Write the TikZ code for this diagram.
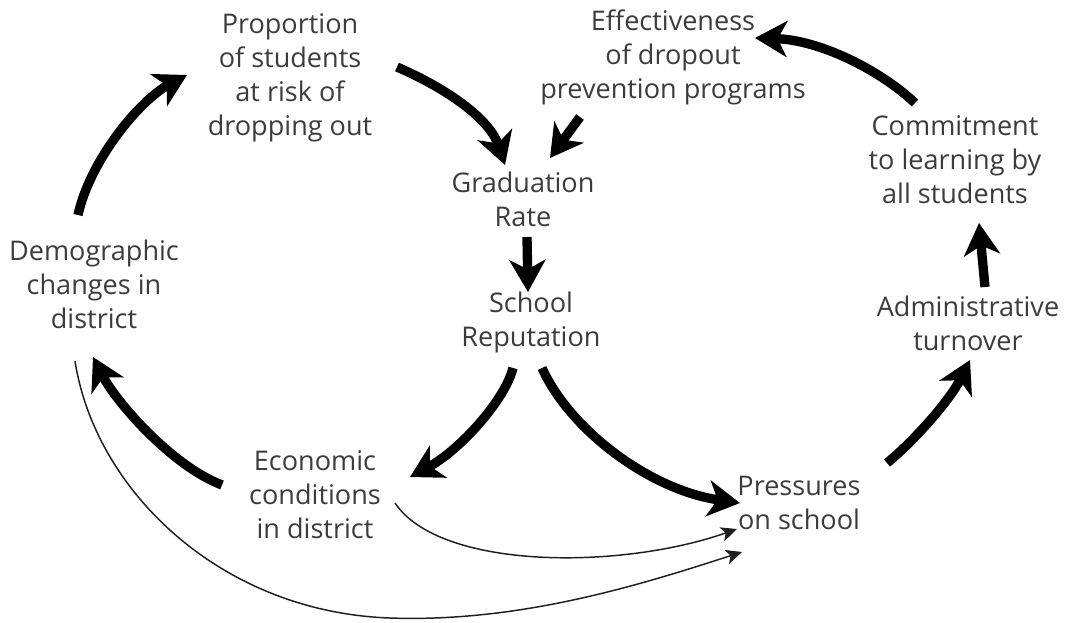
\documentclass[tikz,border=0pt]{standalone}
\usepackage{fontspec}
\setmainfont{Open Sans}
\usetikzlibrary{arrows.meta}
\definecolor{inkgray}{HTML}{3C3C3C}
\definecolor{linegray}{HTML}{1E1E1E}
\tikzset{
  factor/.style={align=center, text=inkgray, inner sep=2pt,
    font=\fontsize{20.3}{25.5}\selectfont},
  bigarrow/.style={line width=7pt, draw=black,
    -{Stealth[length=24pt, width=27pt, inset=7pt]}},
  thinarrow/.style={line width=1.1pt, draw=linegray,
    -{Stealth[length=12pt, width=11pt, inset=3pt]}}
}
\begin{document}
\begin{tikzpicture}[x=0.75pt, y=-0.75pt]
\useasboundingbox (0,0) rectangle (1071,622);

% factors of the loop
\node[factor] (prop)   at (290,78)  {Proportion\\of students\\at risk of\\dropping out};
\node[factor] (eff)    at (673,57)  {Effectiveness\\of dropout\\prevention programs};
\node[factor] (comm)   at (955,160) {Commitment\\to learning by\\all students};
\node[factor] (grad)   at (523,199) {Graduation\\Rate};
\node[factor] (school) at (531,322) {School\\Reputation};
\node[factor] (demo)   at (94,284)  {Demographic\\changes in\\district};
\node[factor] (admin)  at (968,323) {Administrative\\turnover};
\node[factor] (econ)   at (315,495) {Economic\\conditions\\in district};
\node[factor] (press)  at (799,503) {Pressures\\on school};

% strong links
\draw[bigarrow] ([shift={(107,-11)}]prop.center)
  .. controls (450,90) and (490,120) .. ([shift={(-18,-34)}]grad.center);
\draw[bigarrow] ([shift={(-93,60)}]eff.center) -- ([shift={(27,-41)}]grad.center);
\draw[bigarrow] ([shift={(4,38)}]grad.center) -- ([shift={(-3,-30)}]school.center);
\draw[bigarrow] ([shift={(-18,46)}]school.center)
  .. controls (505,400) and (460,450) .. ([shift={(95,-18)}]econ.center);
\draw[bigarrow] ([shift={(11,46)}]school.center)
  .. controls (570,430) and (650,490) .. ([shift={(-59,0)}]press.center);
\draw[bigarrow] ([shift={(-93,-10)}]econ.center)
  .. controls (170,465) and (115,400) .. ([shift={(-1,73)}]demo.center);
\draw[bigarrow] ([shift={(-16,-69)}]demo.center)
  .. controls (90,160) and (140,100) .. ([shift={(-103,-3)}]prop.center);
\draw[bigarrow] ([shift={(88,-40)}]press.center)
  .. controls (915,440) and (950,400) .. ([shift={(2,37)}]admin.center);
\draw[bigarrow] ([shift={(17,-36)}]admin.center) -- ([shift={(24,63)}]comm.center);
\draw[bigarrow] ([shift={(-40,-57)}]comm.center)
  .. controls (880,70) and (820,40) .. ([shift={(82,-19)}]eff.center);

% weaker links
\draw[thinarrow] ([shift={(80,8)}]econ.center)
  .. controls (440,570) and (620,570) .. ([shift={(-62,26)}]press.center);
\draw[thinarrow] ([shift={(-19,77)}]demo.center)
  .. controls (95,490) and (220,612) .. (390,618)
  .. controls (520,622.6) and (640,585) .. ([shift={(-57,49)}]press.center);
\end{tikzpicture}
\end{document}
